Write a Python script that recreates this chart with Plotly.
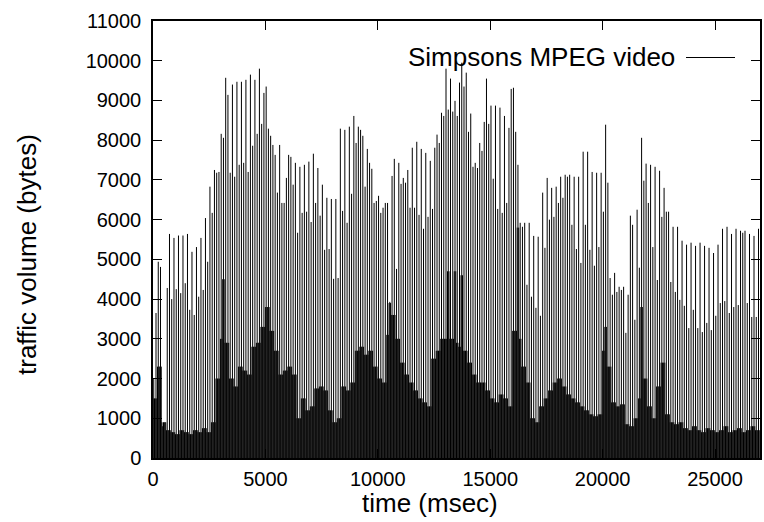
import plotly.graph_objects as go

# Major (I/P) frame sizes in bytes, one every 100 ms starting at t = 33 ms
major_frames = [
    2000, 3650, 4940, 4810, 800, 900,
    4280, 5640, 4000, 5540, 4250, 5600, 4150, 5600, 4400, 5640,
    3730, 5190, 3600, 5310, 4060, 5540, 4230, 6040, 4940, 6830,
    6170, 7250, 7180, 7200, 8160, 8060, 9570, 9140, 7180, 9400,
    7080, 9470, 7380, 9470, 7430, 9520, 7200, 9650, 7860, 9520,
    8160, 9800, 8410, 9190, 9350, 8290, 8110, 7880, 7630, 6680,
    7880, 6420, 6420, 7050, 7630, 7580, 6880, 7430, 5670,
    7330, 6170, 7380, 6200, 7460, 5940, 7660, 6420, 7300, 6100,
    6880, 5240, 6550, 5260, 6520, 4510, 6520, 4530, 8290, 6220,
    8260, 5920, 8340, 6650, 8610, 7930, 8340, 8260, 8110, 6830,
    7780, 7430, 7280, 6420, 6470, 6600, 6170, 6300, 6420, 6420,
    3930, 7100, 7530, 4760, 7430, 6900, 7050, 6930, 7250, 6300,
    7810, 6300, 7960, 6120, 7780, 5770, 7680, 6070, 7480, 6270,
    7810, 8140, 7930, 8690, 8610, 9800, 8770,
    9550, 8720, 8990, 8610, 9450,
    9950, 9350, 9700, 8210, 8670, 7330, 7430, 7300, 7930, 7730,
    8460, 9550, 8410, 8870, 7030, 8870, 6270, 8820, 6170, 8610,
    6420, 8310, 9290, 9320, 8210, 7380, 5920, 5820, 5920, 4360,
    5920, 4060, 5590, 3780, 5570, 3580, 6680, 5290, 7050, 6000,
    6800, 6070, 6830, 6420, 7080, 6550, 7130, 7080, 7130, 5870,
    7080, 5260, 7080, 4910, 7710, 5870, 7710, 5240, 7200, 4840,
    7180, 5310,
    7180, 6200, 8390, 6930, 4530, 4110, 4660, 4180, 4310, 4230,
    4310, 3150, 4110, 6100, 5870, 3480, 6250, 4790, 8060, 6980,
    7410, 6420, 7380, 5310, 7330, 4480, 7230, 6070, 6800, 6200,
    6200, 4430, 5820, 4180, 5820, 3980, 5470, 3830, 5370, 3270,
    5420, 3730, 5340, 3270, 5420, 3170, 5340, 3400, 5290, 3220,
    5160, 3580, 5370, 3900, 5770, 3950, 5820, 3650, 5640, 3800,
    5770, 3850, 5720, 5670, 5720, 3900, 5640, 3550, 5590, 3550,
    5770,
]

# B-frame sizes in bytes, one level per 200 ms window
b_frames = [
    1500, 2300, 900, 700, 650, 600, 700, 650, 600, 700,
    650, 750, 650, 900, 2000, 3000, 2900, 2000, 1800, 2300,
    2200, 2100, 2800, 2900, 3300, 3800, 3200, 2700, 2100, 2200,
    2300, 2100, 1000, 1500, 1200, 1300, 1750, 1800, 1700, 1200,
    900, 1000, 1800, 1700, 1900, 2700, 2800, 2600, 2700, 2300,
    2000, 1900, 3100, 3600, 3000, 2400, 2100, 1900, 1700, 1500,
    1400, 1300, 2500, 2700, 3000, 3000, 3000, 2900, 2800, 2700,
    2400, 2100, 1900, 1900, 1700, 1500, 1400, 1600, 1500, 1300,
    3200, 3000, 2300, 1900, 1000, 900, 1300, 1500, 1700, 1900,
    2000, 1800, 1600, 1500, 1400, 1300, 1200, 1100, 1050, 1100,
    2700, 2300, 1400, 1300, 1350, 850, 800, 1000, 1500, 2000,
    1300, 1000, 1800, 2400, 1100, 900, 850, 900, 750, 700,
    800, 700, 650, 750, 700, 650, 700, 800, 650, 700,
    750, 650, 700, 800, 700,
]

# Tall B frames that stand out of the black mass (both B frames of that slot)
spike_ms = [3140, 10500, 13100, 13430, 13750, 16230, 20100, 21700]
spike_bytes = [4500, 3900, 4700, 4700, 4600, 5800, 3300, 3800]

frame_ms = 100.0 / 3.0
b_window_ms = 200.0

xticks = [0, 5000, 10000, 15000, 20000, 25000]
yticks = list(range(0, 11001, 1000))
series_name = "Simpsons MPEG video"
x_title = "time (msec)"
y_title = "traffic volume (bytes)"

# Build frame sequence: pattern B, major, B repeating every 100 ms
times, sizes = [], []
for k, m in enumerate(major_frames):
    for j in range(3):
        t = (3 * k + j) * frame_ms
        if j == 1:
            v = m
        else:
            idx = min(int(t // b_window_ms), len(b_frames) - 1)
            v = b_frames[idx]
        times.append(t)
        sizes.append(v)

for ts, vs in zip(spike_ms, spike_bytes):
    k = int(round((ts - frame_ms) / (3 * frame_ms)))
    for n in (3 * k, 3 * k + 2):
        if 0 <= n < len(sizes):
            sizes[n] = vs

xs, ys = [], []
for t, v in zip(times, sizes):
    xs += [t, t, None]
    ys += [0, v, None]

fig = go.Figure()
fig.add_trace(go.Scatter(
    x=xs, y=ys, mode="lines",
    line=dict(color="black", width=1),
    name=series_name, showlegend=False, hoverinfo="skip",
))

tick_font = dict(family="Liberation Sans, Arial, sans-serif", size=20, color="black")
text_font = dict(family="Liberation Sans, Arial, sans-serif", size=26, color="black")

W, H = 764, 522
L, R, T, B = 153, 760, 21, 458


def px_x(px):
    return (px - L) / (R - L)


def px_y(py):
    return (B - py) / (B - T)


fig.update_layout(
    width=W, height=H,
    margin=dict(l=L, r=W - R, t=T, b=H - B),
    paper_bgcolor="white", plot_bgcolor="white",
    font=tick_font,
    xaxis=dict(
        range=[0, 27000], tickvals=xticks, ticktext=[str(v) for v in xticks],
        ticks="inside", ticklen=9, tickwidth=1.2, tickcolor="black",
        showline=True, linecolor="black", linewidth=1.5, mirror="ticks",
        showgrid=False, zeroline=False, automargin=False,
        tickfont=tick_font, ticklabelstandoff=2,
    ),
    yaxis=dict(
        range=[0, 11000], tickvals=yticks, ticktext=[str(v) for v in yticks],
        ticks="inside", ticklen=9, tickwidth=1.2, tickcolor="black",
        showline=True, linecolor="black", linewidth=1.5, mirror="ticks",
        showgrid=False, zeroline=False, automargin=False,
        tickfont=tick_font, ticklabelstandoff=6,
    ),
)

# axis titles placed as in the gnuplot original
fig.add_annotation(
    x=px_x(430), y=px_y(503), xref="paper", yref="paper", text=x_title,
    showarrow=False, xanchor="center", yanchor="middle", font=text_font,
)
fig.add_annotation(
    x=px_x(27), y=px_y(255), xref="paper", yref="paper", text=y_title,
    textangle=-90, showarrow=False, xanchor="center", yanchor="middle",
    font=text_font,
)

# gnuplot-style key: text followed by the line sample
fig.add_annotation(
    x=px_x(677), y=px_y(57), xref="paper", yref="paper",
    text=series_name, showarrow=False, xanchor="right", yanchor="middle",
    font=text_font,
)
fig.add_shape(
    type="line", xref="paper", yref="paper",
    x0=px_x(686), x1=px_x(735), y0=px_y(57.5), y1=px_y(57.5),
    line=dict(color="black", width=1),
)

fig.write_html(
    "out.html",
    config={"displayModeBar": False},
    post_script="document.body.style.margin='0px';document.body.style.overflow='hidden';",
)
